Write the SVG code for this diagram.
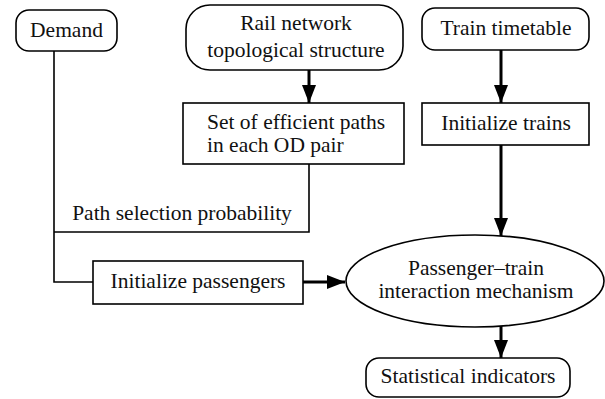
<svg xmlns="http://www.w3.org/2000/svg" width="605" height="399" viewBox="0 0 605 399">
<style>
.box{fill:#fff;stroke:#000;stroke-width:1.6}
.t{font-family:'Liberation Serif','Times New Roman','DejaVu Serif',serif;font-size:21.5px;fill:#111}
.c{text-anchor:middle}
.thin{fill:none;stroke:#000;stroke-width:1.6}
.thick{fill:none;stroke:#000;stroke-width:3}
</style>
<defs>
<marker id="ah" markerUnits="userSpaceOnUse" markerWidth="18" markerHeight="14" refX="18" refY="7" orient="auto">
<path d="M0,0 L18,7 L0,14 z" fill="#000"/>
</marker>
</defs>
<rect width="605" height="399" fill="#fff"/>
<g id="connectors">
<polyline class="thin" points="54,51 54,282 93,282"/>
<polyline class="thin" points="309,164 309,232 54,232"/>
<line class="thick" x1="309" y1="70" x2="309" y2="103" marker-end="url(#ah)"/>
<line class="thick" x1="501" y1="50" x2="501" y2="103" marker-end="url(#ah)"/>
<line class="thick" x1="501" y1="145" x2="501" y2="236" marker-end="url(#ah)"/>
<line class="thick" x1="303" y1="282" x2="345" y2="282" marker-end="url(#ah)"/>
<line class="thick" x1="501" y1="326" x2="501" y2="358" marker-end="url(#ah)"/>
</g>
<g id="demand">
<rect class="box" x="16" y="10" width="101" height="41" rx="13"/>
<text class="t c" x="66.5" y="37" font-family="Liberation Serif">Demand</text>
</g>
<g id="rail">
<rect class="box" x="186" y="5" width="217" height="65" rx="24"/>
<text class="t c" x="296" y="30">Rail network</text>
<text class="t c" x="296" y="57">topological structure</text>
</g>
<g id="timetable">
<rect class="box" x="422" y="8" width="167" height="42" rx="13"/>
<text class="t c" x="506" y="35">Train timetable</text>
</g>
<g id="paths">
<rect class="box" x="183" y="103" width="221" height="61"/>
<text class="t" x="207" y="129">Set of efficient paths</text>
<text class="t" x="207" y="152">in each OD pair</text>
</g>
<g id="trains">
<rect class="box" x="422" y="103" width="167" height="42"/>
<text class="t c" x="506" y="130">Initialize trains</text>
</g>
<g id="prob">
<text class="t c" x="182" y="220">Path selection probability</text>
</g>
<g id="passengers">
<rect class="box" x="93" y="261" width="210" height="43"/>
<text class="t c" x="198" y="288">Initialize passengers</text>
</g>
<g id="interaction">
<ellipse class="box" cx="475" cy="281" rx="129" ry="46"/>
<text class="t c" x="476" y="275">Passenger–train</text>
<text class="t c" x="476" y="298">interaction mechanism</text>
</g>
<g id="stats">
<rect class="box" x="366" y="358" width="204" height="39" rx="13"/>
<text class="t c" x="468" y="383">Statistical indicators</text>
</g>
</svg>
